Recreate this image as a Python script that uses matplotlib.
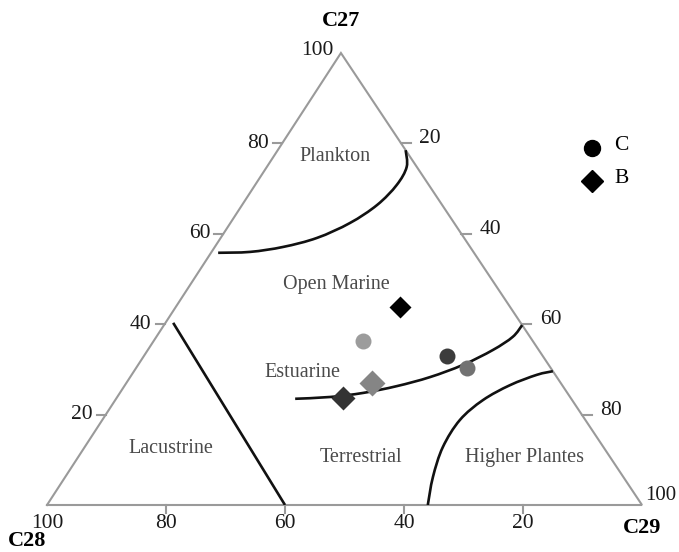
import numpy as np
import matplotlib
matplotlib.use("Agg")
import matplotlib.pyplot as plt
from matplotlib.path import Path
from matplotlib.patches import PathPatch

plt.rcParams['font.family'] = ['Liberation Serif', 'DejaVu Serif']

# ternary layout: apex (C27) sits slightly left of centre
APEX_X = 0.494

# sample compositions (%): C27, C28, C29
c_c27 = [36.3, 33.0, 30.3]
c_c28 = [28.5, 16.1, 14.1]
c_c29 = [35.2, 50.9, 55.6]
c_colors = ['#9c9c9c', '#3c3c3c', '#727272']

b_c27 = [43.8, 27.0, 23.7]
b_c28 = [18.5, 31.7, 38.3]
b_c29 = [37.7, 41.3, 38.0]
b_colors = ['#000000', '#858585', '#333333']
b_sizes = [11.5, 13.5, 12]

# field boundaries as (C27, C29) pairs, C28 = remainder
plankton_c27 = [55.8, 56.0, 57.1, 59.1, 62.4, 66.4, 70.8, 74.8, 78.5]
plankton_c29 = [1.2, 6.5, 11.5, 16.2, 20.1, 22.7, 23.8, 23.5, 21.5]

estuarine_c27 = [23.5, 23.9, 24.8, 26.3, 28.3, 31.0, 34.3, 37.2, 39.8]
estuarine_c29 = [30.1, 35.8, 40.9, 45.8, 50.4, 54.6, 58.0, 59.9, 60.2]

higher_c27 = [0.0, 6.2, 12.8, 18.8, 23.2, 26.5, 28.8, 29.6]
higher_c29 = [64.0, 61.8, 60.2, 60.1, 61.8, 64.7, 68.1, 70.4]

lacustrine_c27 = [40.3, 0.0]
lacustrine_c29 = [1.3, 40.0]

tick_vals = [20, 40, 60, 80]

regions = ['Plankton', 'Open Marine', 'Estuarine', 'Lacustrine', 'Terrestrial', 'Higher Plantes']
region_xy = [(0.484, 0.770), (0.486, 0.488), (0.429, 0.294),
             (0.208, 0.124), (0.528, 0.104), (0.803, 0.106)]


def tern(c27, c28, c29):
    c27, c28, c29 = (np.asarray(v, dtype=float) for v in (c27, c28, c29))
    s = c27 + c28 + c29
    return (c29 + APEX_X * c27) / s, c27 / s


def tern2(c27, c29):
    c27, c29 = np.asarray(c27, float), np.asarray(c29, float)
    return tern(c27, 100 - c27 - c29, c29)


def smooth_path(x, y):
    # cubic Bezier segments through every point (Catmull-Rom tangents)
    pts = np.column_stack([x, y])
    if len(pts) < 3:
        return Path(pts)
    verts = [pts[0]]
    codes = [Path.MOVETO]
    n = len(pts)
    for i in range(n - 1):
        p0 = pts[max(i - 1, 0)]
        p1 = pts[i]
        p2 = pts[i + 1]
        p3 = pts[min(i + 2, n - 1)]
        verts += [p1 + (p2 - p0) / 6, p2 - (p3 - p1) / 6, p2]
        codes += [Path.CURVE4] * 3
    return Path(verts, codes)


fig = plt.figure(figsize=(6.79, 5.52), dpi=100)
ax = fig.add_axes([47 / 679, 47 / 552, 595 / 679, 452 / 552])
ax.set_xlim(0, 1)
ax.set_ylim(0, 1)
ax.axis('off')

# frame
ax.plot([0, 1, APEX_X, 0], [0, 0, 1, 0], color='#9a9a9a', lw=1.5,
        solid_joinstyle='miter', clip_on=False, zorder=1)

# boundaries
for a, b in [(plankton_c27, plankton_c29), (estuarine_c27, estuarine_c29),
             (higher_c27, higher_c29), (lacustrine_c27, lacustrine_c29)]:
    x, y = tern2(a, b)
    ax.add_patch(PathPatch(smooth_path(x, y), fill=False, edgecolor='#111111',
                           lw=1.9, capstyle='butt', zorder=3))

# ticks and labels
tick_kw = dict(fontsize=15.5, color='#1a1a1a')
dx = 9 / 595
dy = 8 / 452
for v in tick_vals:
    # left edge: C27
    x, y = tern(v, 100 - v, 0)
    ax.plot([x - dx, x], [y, y], color='#9a9a9a', lw=1.5, clip_on=False)
    ax.text(x - dx - 0.007, y, str(v), ha='right', va='center', **tick_kw)
    # right edge: C29
    x, y = tern(100 - v, 0, v)
    ax.plot([x, x + dx * 1.1], [y, y], color='#9a9a9a', lw=1.5, clip_on=False)
    ax.text(x + dx * 1.1 + 0.014, y + 0.01, str(v), ha='left', va='center', **tick_kw)
    # bottom edge: C28
    x, y = tern(0, v, 100 - v)
    ax.plot([x, x], [0, -dy], color='#9a9a9a', lw=1.5, clip_on=False)
    ax.text(x, -0.02, str(v), ha='center', va='top', **tick_kw)

ax.text(APEX_X - 0.012, 1.005, '100', ha='right', va='center', **tick_kw)
ax.text(0.0, -0.02, '100', ha='center', va='top', **tick_kw)
ax.text(1.006, 0.022, '100', ha='left', va='center', fontsize=15, color='#1a1a1a')

title_kw = dict(fontsize=16, fontweight='bold', color='#000000')
ax.text(APEX_X, 1.07, 'C27', ha='center', va='center', **title_kw)
ax.text(-0.033, -0.08, 'C28', ha='center', va='center', **title_kw)
ax.text(1.0, -0.05, 'C29', ha='center', va='center', **title_kw)

for name, (x, y) in zip(regions, region_xy):
    ax.text(x, y, name, ha='center', va='center', fontsize=14.5, color='#4a4a4a')

# samples
x, y = tern(c_c27, c_c28, c_c29)
for xi, yi, col in zip(x, y, c_colors):
    ax.plot(xi, yi, 'o', ms=11.5, color=col, mec='none', zorder=4)
x, y = tern(b_c27, b_c28, b_c29)
for xi, yi, col, ms in zip(x, y, b_colors, b_sizes):
    ax.plot(xi, yi, 'D', ms=ms, color=col, mec='none', zorder=4)

# legend
ax.plot(0.916, 0.790, 'o', ms=11.5, color='black', transform=ax.transAxes, clip_on=False)
ax.plot(0.916, 0.717, 'D', ms=11, color='black', transform=ax.transAxes, clip_on=False)
ax.text(0.953, 0.795, 'C', ha='left', va='center', fontsize=15.5, transform=ax.transAxes)
ax.text(0.953, 0.722, 'B', ha='left', va='center', fontsize=15.5, transform=ax.transAxes)

fig.savefig('out.png', dpi=100, facecolor='white')
